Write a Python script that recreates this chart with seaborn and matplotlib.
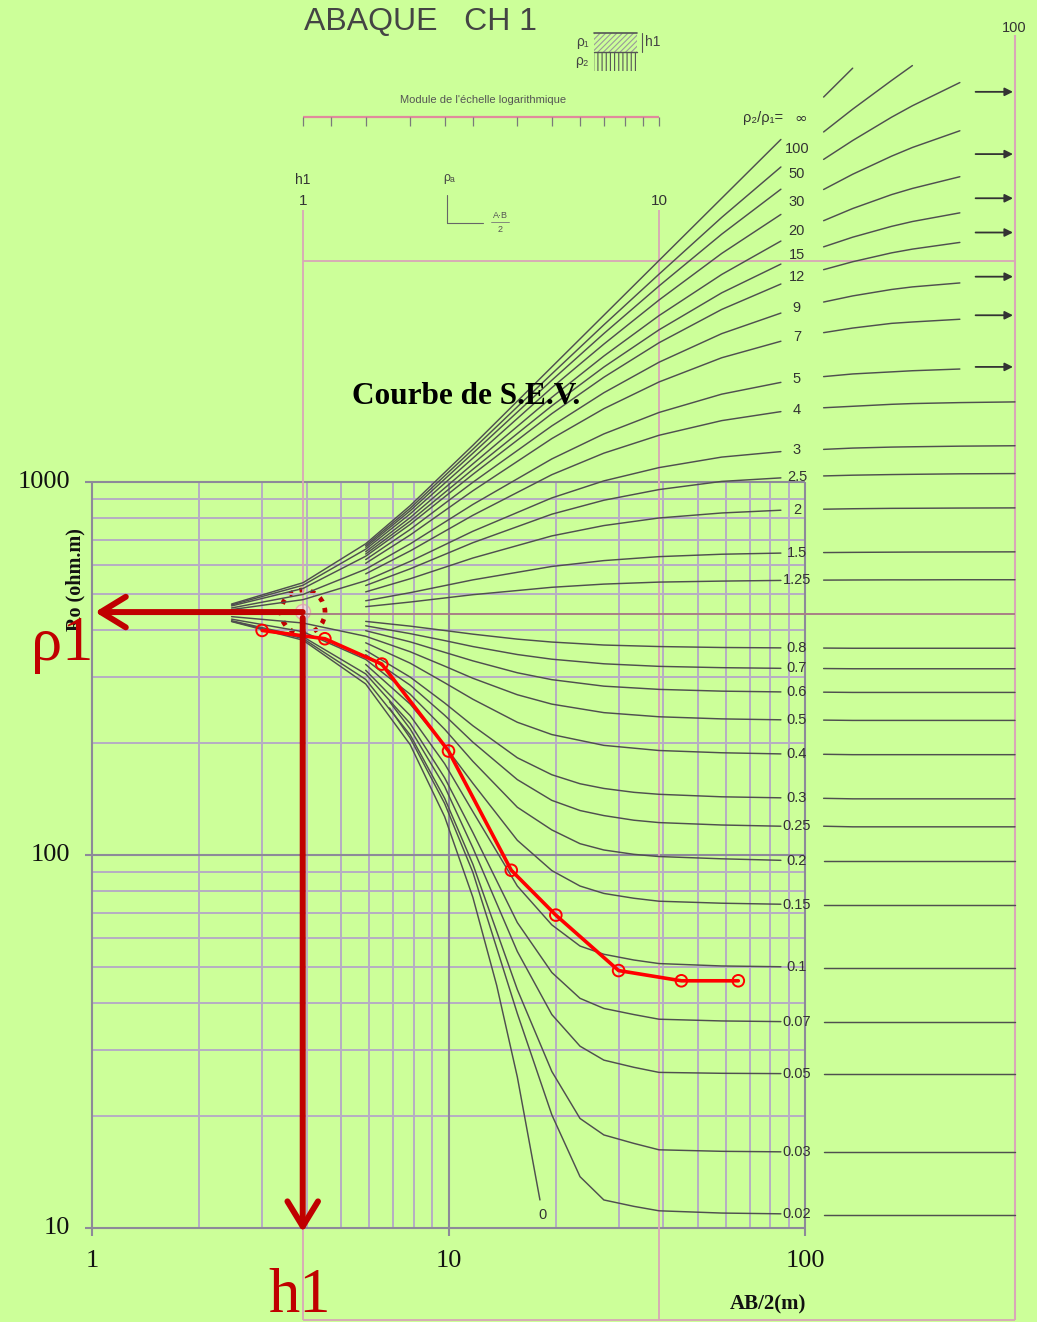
import numpy as np
import pandas as pd
import matplotlib
matplotlib.use("Agg")
import matplotlib.pyplot as plt
from matplotlib.patches import Circle, Rectangle
import seaborn as sns

W, H = 1037, 1322
BG = "#ccff99"
GRID = "#b6adc4"
GRID_DARK = "#8d8a99"
PINK = "#d9a6b8"
CURVE = "#4f4f4f"
DARK_RED = "#c00000"

# ---- abaque CH1 curves: u = (AB/2)/h1, v = rho_a/rho1 ----
nan = np.nan
U_LEFT = [0.63, 1, 1.5, 1.75, 2, 2.5, 3, 4, 5, 6, 7, 8.5, 10, 15, 22]
U_RIGHT = [29, 35, 45, 51.5, 70, 100]

R_INF_L = [1.067, 1.226, 1.58, nan, 2.025, nan, 3.0, nan, 5.0, nan, 7.0, nan, 10.0, 15.0, 22.0]
R_INF_R = [29, 35, nan, nan, nan, nan]
R_100_L = [nan, nan, 1.562, nan, 1.991, nan, 2.924, nan, 4.778, nan, 6.576, nan, 9.147, 13.24, 18.39]
R_100_R = [23.1, 26.8, 32.3, 35.6, nan, nan]
R_50_L = [nan, nan, 1.545, nan, 1.959, nan, 2.849, nan, 4.585, nan, 6.213, nan, 8.47, 11.87, 15.91]
R_50_R = [19.32, 21.85, 25.43, 27.4, 31.87, nan]
R_30_L = [1.061, 1.206, 1.525, nan, 1.92, nan, 2.759, nan, 4.367, nan, 5.801, nan, 7.73, 10.47, 13.5]
R_30_R = [15.88, 17.54, 19.73, 20.88, 23.28, nan]
R_20_L = [nan, nan, 1.5, nan, 1.874, nan, 2.658, nan, 4.101, nan, 5.367, nan, 6.983, 9.13, 11.35]
R_20_R = [12.96, 14.03, 15.36, 15.99, 17.26, nan]
R_15_L = [nan, nan, 1.478, nan, 1.832, nan, 2.566, nan, 3.88, nan, 4.996, nan, 6.366, 8.1, 9.77]
R_15_R = [10.93, 11.64, 12.49, 12.89, 13.64, nan]
R_12_L = [1.054, 1.181, 1.457, nan, 1.793, nan, 2.483, nan, 3.688, nan, 4.675, nan, 5.852, 7.27, 8.58]
R_12_R = [9.42, 9.92, 10.51, 10.77, 11.25, nan]
R_9_L = [nan, nan, 1.425, nan, 1.734, nan, 2.358, nan, 3.405, nan, 4.226, nan, 5.155, 6.21, 7.1]
R_9_R = [7.63, 7.94, 8.28, 8.42, 8.64, nan]
R_7_L = [nan, nan, 1.391, nan, 1.673, nan, 2.231, nan, 3.135, nan, 3.809, nan, 4.533, 5.307, 5.91]
R_7_R = [6.25, 6.44, 6.64, 6.7, 6.82, nan]
R_5_L = [1.04, 1.136, 1.339, nan, 1.579, nan, 2.041, nan, 2.746, nan, 3.232, nan, 3.716, 4.187, 4.521]
R_5_R = [4.694, 4.776, 4.841, 4.877, 4.932, nan]
R_4_L = [nan, nan, 1.299, nan, 1.508, nan, 1.902, nan, 2.478, nan, 2.851, nan, 3.203, 3.524, 3.737]
R_4_R = [3.832, 3.869, 3.919, 3.938, 3.963, 3.981]
R_3_L = [1.029, 1.098, 1.242, nan, 1.409, nan, 1.714, nan, 2.13, nan, 2.38, nan, 2.595, 2.779, 2.88]
R_3_R = [2.922, 2.947, 2.966, 2.972, 2.984, 2.992]
R_2_5_L = [nan, nan, 1.204, nan, 1.342, nan, 1.591, nan, 1.916, nan, 2.098, nan, 2.249, 2.372, 2.427]
R_2_5_R = [2.458, 2.47, 2.48, 2.484, 2.492, 2.496]
R_2_L = [nan, nan, 1.155, nan, 1.258, nan, 1.44, nan, 1.663, nan, 1.779, nan, 1.869, 1.931, 1.966]
R_2_R = [1.979, 1.985, 1.99, 1.991, 1.994, 1.996]
R_1_5_L = [nan, nan, 1.09, nan, 1.149, nan, 1.249, nan, 1.363, nan, 1.416, nan, 1.453, 1.476, 1.487]
R_1_5_R = [1.492, 1.494, 1.496, 1.497, 1.498, 1.499]
R_1_25_L = [nan, nan, 1.049, nan, 1.081, nan, 1.134, nan, 1.19, nan, 1.215, nan, 1.231, 1.239, 1.2445]
R_1_25_R = [1.247, 1.248, 1.249, 1.249, 1.25, 1.25]
R_0_8_L = [nan, nan, .953, nan, .924, .898, .877, .849, .833, nan, .817, nan, .809, .804, .802]
R_0_8_R = [.801, .8, .8, .8, .8, .8]
R_0_7_L = [nan, nan, .926, nan, .88, .841, .809, .768, .745, nan, .723, nan, .711, .705, .702]
R_0_7_R = [.701, .7, .7, .7, .7, .7]
R_0_6_L = [nan, nan, .897, nan, .834, .779, .737, .682, .652, nan, .625, nan, .612, .605, .602]
R_0_6_R = [.601, .6, .6, .6, .6, .6]
R_0_5_L = [.983, .943, .865, nan, .782, .712, .658, .591, .556, nan, .526, nan, .512, .505, .502]
R_0_5_R = [.501, .5, .5, .5, .5, .5]
R_0_4_L = [nan, nan, .829, nan, .726, .639, .574, .494, .456, nan, .425, nan, .411, .405, .402]
R_0_4_R = [.401, .4, .4, .4, .4, .4]
R_0_3_L = [nan, nan, .789, nan, .663, .56, .483, .392, .351, .331, .321, .313, .309, .304, .302]
R_0_3_R = [.301, .3, .3, .3, .3, .3]
R_0_25_L = [nan, nan, .767, nan, .629, .517, .434, .34, .297, .278, .269, .261, .257, .253, .251]
R_0_25_R = [.251, .25, .25, .25, .25, .25]
R_0_2_L = [.967, .891, .744, nan, .593, .472, .383, .284, .245, .224, .215, .209, .206, .203, .201]
R_0_2_R = [.2, .2, .2, .2, .2, .2]
R_0_15_L = [nan, nan, .72, nan, .556, .424, .332, .229, .188, .17, .162, .157, .154, .152, .151]
R_0_15_R = [.15, .15, .15, .15, .15, .15]
R_0_1_L = [nan, nan, .693, nan, .516, .377, .276, .17, .132, .115, .109, .105, .1026, .101, .1005]
R_0_1_R = [.1, .1, .1, .1, .1, .1]
R_0_07_L = [.957, .862, .677, nan, .49, .344, .241, .134, .0968, .0818, .0766, .0736, .0714, .0706, .0703]
R_0_07_R = [.07, .07, .07, .07, .07, .07]
R_0_05_L = [nan, nan, nan, .565, .473, .325, .218, .111, .0736, .0599, .0547, .0522, .0505, .0502, .0501]
R_0_05_R = [.05, .05, .05, .05, .05, .05]
R_0_03_L = [.954, .852, .653, nan, .455, .301, .196, .0866, .0508, .0374, .0336, .0318, .0305, .0302, .0301]
R_0_03_R = [.03, .03, .03, .03, .03, .03]
R_0_02_L = [nan, nan, nan, .542, .446, .291, .186, .0741, .0383, .0256, .022, .0211, .0205, .0202, .0201]
R_0_02_R = [.02, .02, .02, .02, .02, .02]
R_ZERO_U = [0.63, 1, 1.5, 2, 2.5, 3, 3.5, 4, 4.63]
R_ZERO_V = [.952, .843, .634, .427, .267, .158, .089, .049, .022]

CURVES = [
    ("∞", R_INF_L, R_INF_R), ("100", R_100_L, R_100_R), ("50", R_50_L, R_50_R),
    ("30", R_30_L, R_30_R), ("20", R_20_L, R_20_R), ("15", R_15_L, R_15_R),
    ("12", R_12_L, R_12_R), ("9", R_9_L, R_9_R), ("7", R_7_L, R_7_R),
    ("5", R_5_L, R_5_R), ("4", R_4_L, R_4_R), ("3", R_3_L, R_3_R),
    ("2.5", R_2_5_L, R_2_5_R), ("2", R_2_L, R_2_R), ("1.5", R_1_5_L, R_1_5_R),
    ("1.25", R_1_25_L, R_1_25_R), ("0.8", R_0_8_L, R_0_8_R), ("0.7", R_0_7_L, R_0_7_R),
    ("0.6", R_0_6_L, R_0_6_R), ("0.5", R_0_5_L, R_0_5_R), ("0.4", R_0_4_L, R_0_4_R),
    ("0.3", R_0_3_L, R_0_3_R), ("0.25", R_0_25_L, R_0_25_R), ("0.2", R_0_2_L, R_0_2_R),
    ("0.15", R_0_15_L, R_0_15_R), ("0.1", R_0_1_L, R_0_1_R), ("0.07", R_0_07_L, R_0_07_R),
    ("0.05", R_0_05_L, R_0_05_R), ("0.03", R_0_03_L, R_0_03_R), ("0.02", R_0_02_L, R_0_02_R),
]
ARROW_RATIOS = [30, 20, 15, 12, 9, 7, 5]
RULER_TICKS = [1, 1.2, 1.5, 2, 2.5, 3, 4, 5, 6, 7, 8, 9, 10]

# ---- field sounding (S.E.V.) ----
AB2 = [3, 4.5, 6.5, 10, 15, 20, 30, 45, 65]
RHO_A = [400, 380, 325, 190, 91, 69, 49, 46, 46]
RHO1 = 448
H1 = 3.9

# chart grid
GRID_X = [2, 3, 4, 5, 6, 7, 8, 9, 20, 30, 40, 50, 60, 70, 80, 90]
GRID_Y = [20, 30, 40, 50, 60, 70, 80, 90, 200, 300, 400, 500, 600, 700, 800, 900]
MAJOR = [10, 100, 1000]
XMAJOR = [1, 10, 100]

sns.set_style("white")
plt.rcParams["font.family"] = ["Liberation Sans", "DejaVu Sans"]
SERIF = ["Liberation Serif", "DejaVu Serif"]
SANS = ["Liberation Sans", "DejaVu Sans"]


def fx(px):
    return px / W


def fy(py):
    return 1 - py / H


def set_chart_limits(a):
    # 1 -> x=92 px, decade 356.5 px ; 1000 -> y=482 px, decade 373 px
    a.set_xlim(10 ** (-92 / 356.5), 10 ** ((W - 92) / 356.5))
    a.set_ylim(10 ** (3 - (H - 482) / 373), 10 ** (3 + 482 / 373))


def set_abaque_limits(a):
    # u=1 -> x=303 px, decade 356 px ; v=1 -> y=614 px, decade 353.5 px
    a.set_xlim(10 ** (-303 / 356), 10 ** ((W - 303) / 356))
    a.set_ylim(10 ** (-(H - 614) / 353.5), 10 ** (614 / 353.5))


fig = plt.figure(figsize=(W / 100, H / 100), dpi=100, facecolor=BG)
ax = fig.add_axes([0, 0, 1, 1], zorder=1)
ab = fig.add_axes([0, 0, 1, 1], zorder=2)
ar = fig.add_axes([0, 0, 1, 1], zorder=3)
for a in (ax, ab, ar):
    a.set_xscale("log")
    a.set_yscale("log")
    a.set_axis_off()
set_chart_limits(ax)
set_chart_limits(ar)
set_abaque_limits(ab)

# ---- chart grid, frame, ticks ----
ax.vlines(GRID_X, 10, 1000, color=GRID, lw=1.4)
ax.hlines(GRID_Y, 1, 100, color=GRID, lw=1.4)
ax.vlines(XMAJOR, 10, 1000, color=GRID_DARK, lw=1.5)
ax.hlines(MAJOR, 1, 100, color=GRID_DARK, lw=1.5)
ax.hlines(MAJOR, 0.956, 1, color=GRID_DARK, lw=1.5)
ax.vlines(XMAJOR, 9.52, 10, color=GRID_DARK, lw=1.5)
for v in MAJOR:
    ax.text(0.868, v, str(v), ha="right", va="center", fontsize=19, family=SERIF, color="#111")
for v in XMAJOR:
    ax.text(v, 8.15, str(v), ha="center", va="center", fontsize=19, family=SERIF, color="#111")
ax.text(0.896, 546, "Ro (ohm.m)", rotation=90, ha="center", va="center",
        fontsize=14.5, fontweight="bold", family=SERIF, color="#111")
ax.text(78.8, 6.22, "AB/2(m)", ha="center", va="center", fontsize=15,
        fontweight="bold", family=SERIF, color="#111")

# ---- abaque frame and decorations ----
ab.vlines([1, 10], 0.01006, 13.9, color=PINK, lw=1.3)
ab.vlines([100], 0.01006, 43.5, color=PINK, lw=1.5)
ab.hlines([10], 1, 100, color=PINK, lw=1.3)
ab.hlines([0.01006], 1, 100, color=PINK, lw=1.3)
ab.hlines([1.0], 1, 100, color="#a97f86", lw=1.4)
ab.hlines([25.5], 1, 10, color="#e08a9c", lw=1.6)
ab.vlines(RULER_TICKS, 24.0, 25.5, color="#7a7a7a", lw=0.9)
ab.text(1, 16.9, "h1", ha="center", va="center", fontsize=10, color="#333")
ab.text(1, 14.7, "1", ha="center", va="center", fontsize=11, color="#333")
ab.text(10, 14.7, "10", ha="center", va="center", fontsize=11, color="#333")
ab.text(99.5, 45.6, "100", ha="center", va="center", fontsize=10.5, color="#333")

# curves, in long form for seaborn
rows = []
for name, left, right in CURVES:
    for seg, us, vs in (("L", U_LEFT, left), ("R", U_RIGHT, right)):
        for u, v in zip(us, vs):
            if np.isfinite(v):
                rows.append({"u": u, "v": v, "seg": f"{name}{seg}"})
for u, v in zip(R_ZERO_U, R_ZERO_V):
    rows.append({"u": u, "v": v, "seg": "0L"})
curves = pd.DataFrame(rows)
sns.lineplot(data=curves, x="u", y="v", units="seg", estimator=None, sort=False,
             color=CURVE, lw=1.05, ax=ab, legend=False)

for name, left, right in CURVES:
    lab_v = np.sqrt(left[-1] * right[0])
    if name == "∞":
        ab.text(22.3, lab_v, "ρ₂/ρ₁=", ha="right", va="center", fontsize=10.5,
                color="#333", family=SANS)
        ab.text(25.0, lab_v, "∞", ha="center", va="center", fontsize=11, color="#333",
                family=["DejaVu Sans"])
    else:
        ab.text(24.4, lab_v, name, ha="center", va="center", fontsize=10.5, color="#333")
ab.text(4.72, 0.0199, "0", ha="center", va="center", fontsize=10.5, color="#333")

for k in ARROW_RATIOS:
    ab.annotate("", xy=(98.7, k), xytext=(77.5, k),
                arrowprops=dict(arrowstyle="-|>", color="#333", lw=1.3,
                                mutation_scale=12, shrinkA=0, shrinkB=0))
set_abaque_limits(ab)

# ---- top texts and icons ----
fig.text(fx(421), fy(22), "ABAQUE   CH 1", ha="center", va="center", fontsize=23, color="#444")
fig.text(fx(483), fy(100), "Module de l'échelle logarithmique", ha="center", va="center",
         fontsize=8, color="#555")
fig.text(fx(582), fy(42), "ρ₁", ha="center", va="center", fontsize=10, color="#444", family=SANS)
fig.text(fx(582), fy(61), "ρ₂", ha="center", va="center", fontsize=10, color="#444", family=SANS)
fig.text(fx(653), fy(42), "h1", ha="center", va="center", fontsize=10, color="#444")
plt.rcParams["hatch.linewidth"] = 0.8
fig.add_artist(Rectangle((fx(594), fy(52)), fx(43), 19 / H, transform=fig.transFigure,
                         facecolor="none", edgecolor="#9a9a9a", hatch="//////", lw=0))
fig.add_artist(Rectangle((fx(594), fy(71)), fx(43), 19 / H, transform=fig.transFigure,
                         facecolor="none", edgecolor="#555", hatch="||||", lw=0))
fig.add_artist(plt.Line2D([fx(594), fx(637)], [fy(33), fy(33)], color="#555", lw=1.2))
fig.add_artist(plt.Line2D([fx(594), fx(637)], [fy(52), fy(52)], color="#555", lw=1.0))
fig.add_artist(plt.Line2D([fx(642), fx(642)], [fy(33), fy(52)], color="#555", lw=0.8))
fig.text(fx(449), fy(178), "ρₐ", ha="center", va="center", fontsize=9, color="#444", family=SANS)
fig.add_artist(plt.Line2D([fx(447), fx(447)], [fy(223), fy(195)], color="#666", lw=0.8))
fig.add_artist(plt.Line2D([fx(447), fx(483)], [fy(223), fy(223)], color="#666", lw=0.8))
fig.text(fx(500), fy(215), "A·B", ha="center", va="center", fontsize=6.5, color="#555")
fig.add_artist(plt.Line2D([fx(491), fx(509)], [fy(222), fy(222)], color="#777", lw=0.6))
fig.text(fx(500), fy(230), "2", ha="center", va="center", fontsize=6.5, color="#555")
fig.text(fx(466), fy(396), "Courbe de S.E.V.", ha="center", va="center", fontsize=22.5,
         fontweight="bold", family=SERIF, color="#000")

# ---- S.E.V. curve and interpretation marks ----
sns.lineplot(x=AB2, y=RHO_A, sort=False, color="#ff0000", lw=2.6, ax=ar)
sns.scatterplot(x=AB2, y=RHO_A, marker="o", s=70, fc="none", ec="#ff0000",
                linewidth=1.4, ax=ar, zorder=4)
ar.annotate("", xy=(1.02, RHO1), xytext=(H1, RHO1),
            arrowprops=dict(arrowstyle="->,head_length=0.9,head_width=0.55", lw=4.3,
                            color=DARK_RED, shrinkA=0, shrinkB=0, mutation_scale=20))
ar.annotate("", xy=(H1, 9.75), xytext=(H1, RHO1 * 0.965),
            arrowprops=dict(arrowstyle="->,head_length=0.9,head_width=0.55", lw=4.3,
                            color=DARK_RED, shrinkA=0, shrinkB=0, mutation_scale=20))
fig.add_artist(Circle((3.03, (H - 612) / 100), 0.075, transform=fig.dpi_scale_trans,
                      facecolor="#f3dcdc", edgecolor="#e6a8a8", lw=1.0, alpha=0.9))
fig.add_artist(Circle((3.03, (H - 612) / 100), 0.22, transform=fig.dpi_scale_trans,
                      facecolor="none", edgecolor=DARK_RED, lw=3.4, linestyle=(0, (1, 1.4))))
fig.text(fx(62), fy(645), "ρ1", ha="center", va="center", fontsize=45, family=SERIF,
         color=DARK_RED)
fig.text(fx(300), fy(1297), "h1", ha="center", va="center", fontsize=45, family=SERIF,
         color=DARK_RED)
set_chart_limits(ax)
set_chart_limits(ar)

fig.savefig("out.png", dpi=100, facecolor=BG)
